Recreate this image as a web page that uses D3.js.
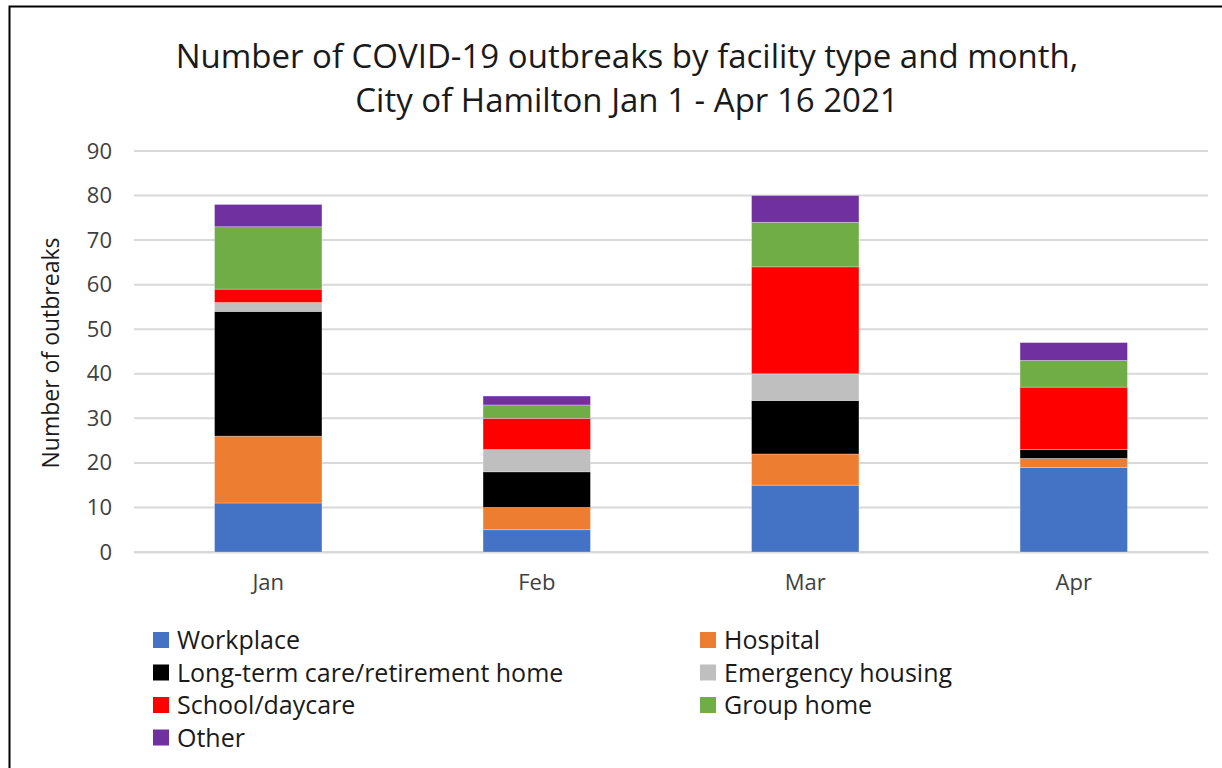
<!DOCTYPE html>
<html>
<head>
<meta charset="utf-8">
<script src="https://cdn.jsdelivr.net/npm/d3@7"></script>
<style>
  body { margin: 0; background: #fff; }
  svg text { font-family: "Open Sans", "Noto Sans", sans-serif; }
</style>
</head>
<body>
<div class="chart"></div>
<script>
// months on the x axis
var months = ["Jan", "Feb", "Mar", "Apr"];

// facility types, in stacking order (bottom to top)
var facilityTypes = ["Workplace", "Hospital", "Long-term care/retirement home",
    "Emergency housing", "School/daycare", "Group home", "Other"];

// outbreak counts per facility type, one value per month
var workplace = [11, 5, 15, 19];
var hospital = [15, 5, 7, 2];
var longTermCare = [28, 8, 12, 2];
var emergencyHousing = [2, 5, 6, 0];
var schoolDaycare = [3, 7, 24, 14];
var groupHome = [14, 3, 10, 6];
var other = [5, 2, 6, 4];

var yTicks = [0, 10, 20, 30, 40, 50, 60, 70, 80, 90];

var colors = ["#4472c4", "#ed7d31", "#000000", "#bfbfbf", "#ff0000", "#70ad47", "#7030a0"];

var width = 1222;
var height = 768;

var seriesValues = [workplace, hospital, longTermCare, emergencyHousing, schoolDaycare, groupHome, other];

// build rows for d3.stack
var rows = months.map(function(m, i) {
    var row = { month: m };
    facilityTypes.forEach(function(f, j) {
        row[f] = seriesValues[j][i];
    });
    return row;
});

var stacked = d3.stack().keys(facilityTypes)(rows);

var svg = d3.select(".chart")
    .append("svg")
    .attr("width", width)
    .attr("height", height);

// chart frame (only left/top visible in the reference crop)
svg.append("rect")
    .attr("x", 9.5)
    .attr("y", 6.5)
    .attr("width", 1300)
    .attr("height", 900)
    .attr("fill", "#fff")
    .attr("stroke", "#000")
    .attr("stroke-width", 2);

var x = d3.scaleBand()
    .domain(months)
    .range([134, 1208])
    .paddingInner(0.6)
    .paddingOuter(0.3);

var y = d3.scaleLinear()
    .domain([0, 90])
    .range([552, 151]);

// gridlines
svg.append("g")
    .selectAll("line")
    .data(yTicks)
    .enter()
    .append("line")
    .attr("x1", 134)
    .attr("x2", 1208)
    .attr("y1", function(d) { return y(d); })
    .attr("y2", function(d) { return y(d); })
    .attr("stroke", "#d9d9d9")
    .attr("stroke-width", 2);

// y axis labels
var yAxis = svg.append("g")
    .attr("transform", "translate(134,0)")
    .call(d3.axisLeft(y).tickValues(yTicks).tickSize(0).tickPadding(22));
yAxis.select(".domain").remove();
yAxis.selectAll("text")
    .attr("font-size", "22px")
    .attr("fill", "#404040")
    .style("font-family", "'Open Sans', sans-serif");

// x axis labels
var xAxis = svg.append("g")
    .attr("transform", "translate(0,552)")
    .call(d3.axisBottom(x).tickSize(0).tickPadding(22));
xAxis.select(".domain")
    .attr("stroke", "#d9d9d9")
    .attr("stroke-width", 2);
xAxis.selectAll("text")
    .attr("font-size", "22px")
    .attr("fill", "#404040")
    .style("font-family", "'Open Sans', sans-serif");

// stacked bars
svg.append("g")
    .selectAll("g")
    .data(stacked)
    .enter()
    .append("g")
    .attr("fill", function(d, i) { return colors[i]; })
    .selectAll("rect")
    .data(function(d) { return d; })
    .enter()
    .append("rect")
    .attr("x", function(d) { return x(d.data.month); })
    .attr("width", x.bandwidth())
    .attr("y", function(d) { return y(d[1]); })
    .attr("height", function(d) { return y(d[0]) - y(d[1]); })
    .attr("stroke", "#ffffff")
    .attr("stroke-opacity", 0.35)
    .attr("stroke-width", 0.8);

// title
var title = svg.append("text")
    .attr("x", 627)
    .attr("text-anchor", "middle")
    .attr("font-size", "33px")
    .attr("fill", "#1a1a1a");
title.append("tspan").attr("x", 627).attr("y", 68)
    .text("Number of COVID-19 outbreaks by facility type and month,");
title.append("tspan").attr("x", 627).attr("y", 112)
    .text("City of Hamilton Jan 1 - Apr 16 2021");

// y axis title
svg.append("text")
    .attr("transform", "translate(59,353) rotate(-90)")
    .attr("text-anchor", "middle")
    .attr("font-size", "23px")
    .attr("fill", "#1a1a1a")
    .text("Number of outbreaks");

// legend, two columns
var legend = svg.append("g")
    .selectAll("g")
    .data(facilityTypes)
    .enter()
    .append("g")
    .attr("transform", function(d, i) {
        var col = i % 2;
        var row = Math.floor(i / 2);
        return "translate(" + (col === 0 ? 153 : 700) + "," + (640 + row * 32.5) + ")";
    });

legend.append("rect")
    .attr("x", 0)
    .attr("y", -8)
    .attr("width", 16)
    .attr("height", 16)
    .attr("fill", function(d, i) { return colors[i]; });

legend.append("text")
    .attr("x", 24)
    .attr("y", 9)
    .attr("font-size", "25px")
    .attr("fill", "#1a1a1a")
    .text(function(d) { return d; });
</script>
</body>
</html>
